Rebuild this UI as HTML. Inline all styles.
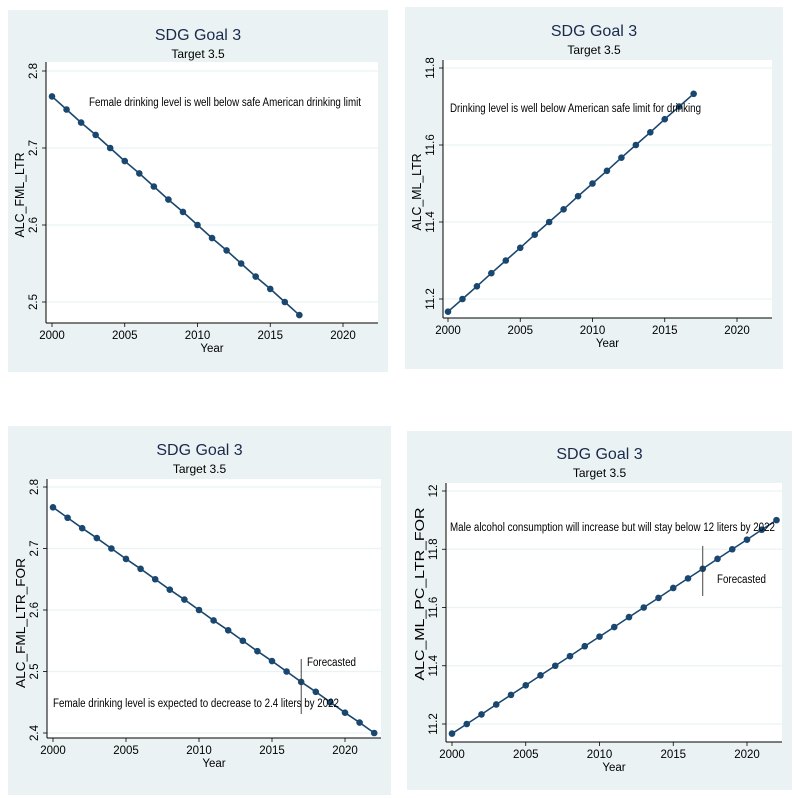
<!DOCTYPE html>
<html><head><meta charset="utf-8">
<style>
html,body{margin:0;padding:0;background:#fff;width:798px;height:798px;overflow:hidden}
svg{display:block;font-family:"Liberation Sans",Arial,sans-serif}
</style></head>
<body>
<svg id="chart" width="798" height="798" viewBox="0 0 798 798"></svg>
<script>
const years1 = [2000,2001,2002,2003,2004,2005,2006,2007,2008,2009,2010,2011,2012,2013,2014,2015,2016,2017];
const femaleValues = [2.767,2.75,2.733,2.717,2.70,2.683,2.667,2.65,2.633,2.617,2.60,2.583,2.567,2.55,2.533,2.517,2.50,2.483];
const maleValues = [11.167,11.20,11.233,11.267,11.30,11.333,11.367,11.40,11.433,11.467,11.50,11.533,11.567,11.60,11.633,11.667,11.70,11.733];
const years2 = [2000,2001,2002,2003,2004,2005,2006,2007,2008,2009,2010,2011,2012,2013,2014,2015,2016,2017,2018,2019,2020,2021,2022];
const femaleForecast = [2.767,2.75,2.733,2.717,2.70,2.683,2.667,2.65,2.633,2.617,2.60,2.583,2.567,2.55,2.533,2.517,2.50,2.483,2.467,2.45,2.433,2.417,2.40];
const maleForecast = [11.167,11.20,11.233,11.267,11.30,11.333,11.367,11.40,11.433,11.467,11.50,11.533,11.567,11.60,11.633,11.667,11.70,11.733,11.767,11.80,11.833,11.867,11.90];
const xTicks = [2000,2005,2010,2015,2020];
const yTicksFemale = [2.5,2.6,2.7,2.8];
const yTicksMale = [11.2,11.4,11.6,11.8];
const yTicksFemaleF = [2.4,2.5,2.6,2.7,2.8];
const yTicksMaleF = [11.2,11.4,11.6,11.8,12];

const NS="http://www.w3.org/2000/svg";
const svg=document.getElementById('chart');
function mk(tag,attrs,parent){const e=document.createElementNS(NS,tag);for(const k in attrs)e.setAttribute(k,attrs[k]);(parent||svg).appendChild(e);return e;}

const panels=[
 {key:'female',bg:[8,10,380,362],plot:[46,62,378,323],xs:[52,343],ys:[2.8,71,2.5,302],ty:34,yl:24,ym:195,lw:85,x:years1,y:femaleValues,yt:yTicksFemale,
  label:'ALC_FML_LTR',note:['Female drinking level is well below safe American drinking limit',89,106,272]},
 {key:'male',bg:[405,7,378,362],plot:[443,60,772,318],xs:[448,737],ys:[11.8,68,11.2,299],ty:30,yl:421,ym:192,lw:77,x:years1,y:maleValues,yt:yTicksMale,
  label:'ALC_ML_LTR',note:['Drinking level is well below American safe limit for drinking',450,112,251]},
 {key:'female-forecast',bg:[8,426,383,369],plot:[47,479,381,738],xs:[53,345],ys:[2.8,487,2.4,733],ty:449,yl:25,ym:623,lw:130,x:years2,y:femaleForecast,yt:yTicksFemaleF,
  label:'ALC_FML_LTR_FOR',note:['Female drinking level is expected to decrease to 2.4 liters by 2022',53,707,286],fc:[2017,659,714,307,666]},
 {key:'male-forecast',bg:[407,431,385,359],plot:[446,483,782,742],xs:[452,747],ys:[12,491,11.2,724],ty:453,yl:424,ym:594,lw:173,x:years2,y:maleForecast,yt:yTicksMaleF,
  label:'ALC_ML_PC_LTR_FOR',note:['Male alcohol consumption will increase but will stay below 12 liters by 2022',450,531,325],fc:[2017,546,596,717,583]}
];

panels.forEach(p=>{
 const g=mk('g',{});
 
 
 const X=v=>p.xs[0]+(v-2000)*(p.xs[1]-p.xs[0])/20;
 const Y=v=>p.ys[1]+(v-p.ys[0])*(p.ys[3]-p.ys[1])/(p.ys[2]-p.ys[0]);
 const [l,t,r,b]=p.plot;
 const bg=mk('rect',{x:p.bg[0],y:p.bg[1],width:p.bg[2],height:p.bg[3],fill:'#eaf2f3'},g);
 
 
 const pa=mk('rect',{x:l,y:t,width:r-l,height:b-t,fill:'#fff'},g);
 
 
 const cx=(p.bg[0]+p.bg[0]+p.bg[2])/2;
 const ti=mk('text',{x:cx,y:p.ty+6,'text-anchor':'middle','font-size':16,fill:'#1a2a4a'},g);ti.textContent='SDG Goal 3';
 
 
 const st=mk('text',{x:cx,y:p.ty+24,'text-anchor':'middle','font-size':12,fill:'#000'},g);st.textContent='Target 3.5';
 
 
 p.yt.forEach(v=>{
  const yy=Y(v);
  const gl=mk('line',{x1:l,x2:r,y1:yy,y2:yy,stroke:'#eaf2f3','stroke-width':1.2},g);
  
  
  mk('line',{x1:l-4,x2:l,y1:yy,y2:yy,stroke:'#000','stroke-width':0.8},g);
  const tl=mk('text',{x:l-9,y:yy,'text-anchor':'middle','font-size':11.5,transform:`rotate(-90 ${l-9} ${yy})`},g);
  tl.textContent=String(v);
  
  
 });
 xTicks.forEach(v=>{
  const xx=X(v);
  mk('line',{x1:xx,x2:xx,y1:b,y2:b+4,stroke:'#000','stroke-width':0.8},g);
  const tl=mk('text',{x:xx,y:b+16,'text-anchor':'middle','font-size':11.5},g);
  tl.textContent=String(v);
  
  
 });
 mk('line',{x1:l,x2:l,y1:t,y2:b,stroke:'#000','stroke-width':1},g);
 mk('line',{x1:l,x2:r,y1:b,y2:b,stroke:'#000','stroke-width':1},g);
 const xl=mk('text',{x:(l+r)/2,y:b+29,'text-anchor':'middle','font-size':11.5},g);xl.textContent='Year';
 
 
 const yl=mk('text',{x:p.yl,y:p.ym,'text-anchor':'middle','font-size':13,textLength:p.lw,lengthAdjust:'spacingAndGlyphs',transform:`rotate(-90 ${p.yl} ${p.ym})`},g);yl.textContent=p.label;
 
 
 let d='';p.x.forEach((v,i)=>{d+=(i?'L':'M')+X(v)+','+Y(p.y[i]);});
 const ln=mk('path',{d:d,fill:'none',stroke:'#1a476f','stroke-width':1.6},g);
 
 
 p.x.forEach((v,i)=>{
  const c=mk('circle',{cx:X(v),cy:Y(p.y[i]),r:3.3,fill:'#1a476f'},g);
  
  
 });
 const nt=mk('text',{x:p.note[1],y:p.note[2],'font-size':11.5,fill:'#000',textLength:p.note[3],lengthAdjust:'spacingAndGlyphs'},g);nt.textContent=p.note[0];
 
 
 if(p.fc){
  const fx=X(p.fc[0]);
  const fl=mk('line',{x1:fx,x2:fx,y1:p.fc[1],y2:p.fc[2],stroke:'#333','stroke-width':0.9},g);
  
  
  const ft=mk('text',{x:p.fc[3],y:p.fc[4],'font-size':11.5,textLength:49,lengthAdjust:'spacingAndGlyphs'},g);ft.textContent='Forecasted';
  
  
 }
});
</script>
</body></html>
